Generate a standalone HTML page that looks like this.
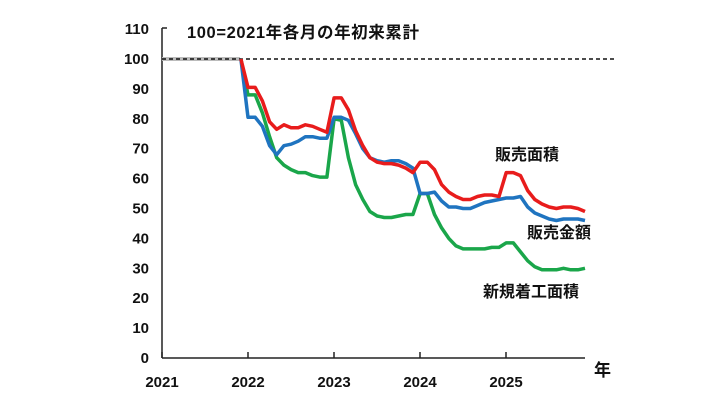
<!DOCTYPE html>
<html><head><meta charset="utf-8"><style>
html,body{margin:0;padding:0;background:#fff;}
svg text{font-family:"Liberation Sans","Noto Sans CJK JP",sans-serif;font-weight:bold;fill:#111;}
</style></head><body>
<svg id="c" width="707" height="403" viewBox="0 0 707 403" xmlns="http://www.w3.org/2000/svg">
<rect width="707" height="403" fill="#fff"/>
<g id="yl" font-size="15" text-anchor="end"></g>
<line x1="162" y1="28" x2="162" y2="358" stroke="#222" stroke-width="1.5"/>
<line x1="162" y1="28" x2="167" y2="28" stroke="#222" stroke-width="1.5"/>
<line x1="162" y1="358" x2="585" y2="358" stroke="#222" stroke-width="1.5"/>
<g id="xt"></g>
<line x1="162" y1="59" x2="240" y2="59" stroke="#bbb" stroke-width="4"/>
<line x1="162" y1="59" x2="615" y2="59" stroke="#111" stroke-width="1.5" stroke-dasharray="4,3"/>
<text x="187" y="38" font-size="16.5" letter-spacing="0.6">100=2021年各月の年初来累計</text>
<polyline id="g" fill="none" stroke="#1aa64a" stroke-width="3.5" stroke-linejoin="round"/>
<polyline id="b" fill="none" stroke="#1f74c0" stroke-width="3.5" stroke-linejoin="round"/>
<polyline id="r" fill="none" stroke="#e81c1c" stroke-width="3.5" stroke-linejoin="round"/>
<text x="495" y="160" font-size="16">販売面積</text>
<text x="527" y="238" font-size="16">販売金額</text>
<text x="483" y="297" font-size="16">新規着工面積</text>
<text x="594" y="376" font-size="17">年</text>
</svg>
<script>
var R=[100,90.5,90.5,86,79,76.5,78,77,77,78,77.5,76.5,75.5,87,87,83,76,71,67,65.5,65,65,64.5,63.5,62,65.5,65.5,63,58,55.5,54,53,53,54,54.5,54.5,54,62,62,61,56,53,51.5,50.5,50,50.5,50.5,50,49];
var B=[100,80.5,80.5,77.5,71,68,71,71.5,72.5,74,74,73.5,73.5,80.5,80.5,79.5,75,70,67,66,65.5,66,66,65,63.5,55,55,55.5,52.5,50.5,50.5,50,50,51,52,52.5,53,53.5,53.5,54,50.5,48.5,47.5,46.5,46,46.5,46.5,46.5,46];
var G=[100,88,88,82,74,67,64.5,63,62,62,61,60.5,60.5,80,79.5,67,58,53,49,47.5,47,47,47.5,48,48,55,55,48,43.5,40,37.5,36.5,36.5,36.5,36.5,37,37,38.5,38.5,35.5,32.5,30.5,29.5,29.5,29.5,30,29.5,29.5,30];
function pts(a){return a.map(function(v,k){var i=k+11;return (162+i*7.17).toFixed(1)+","+(358-v*2.99).toFixed(1);}).join(" ");}
document.getElementById("r").setAttribute("points",pts(R));
document.getElementById("b").setAttribute("points",pts(B));
document.getElementById("g").setAttribute("points",pts(G));
var ns="http://www.w3.org/2000/svg",yl=document.getElementById("yl"),xt=document.getElementById("xt");
for(var v=0;v<=110;v+=10){var t=document.createElementNS(ns,"text");t.setAttribute("x",149);t.setAttribute("y",(358-v*2.99+5).toFixed(1));t.textContent=v;yl.appendChild(t);}
var xs=[162,248,334,420,506];
for(var k=0;k<5;k++){var l=document.createElementNS(ns,"line");l.setAttribute("x1",xs[k]);l.setAttribute("x2",xs[k]);l.setAttribute("y1",352);l.setAttribute("y2",358);l.setAttribute("stroke","#222");l.setAttribute("stroke-width","1.5");xt.appendChild(l);
var t=document.createElementNS(ns,"text");t.setAttribute("x",xs[k]);t.setAttribute("y",387);t.setAttribute("text-anchor","middle");t.setAttribute("font-size","15");t.textContent=2021+k;xt.appendChild(t);}
</script>
</body></html>
